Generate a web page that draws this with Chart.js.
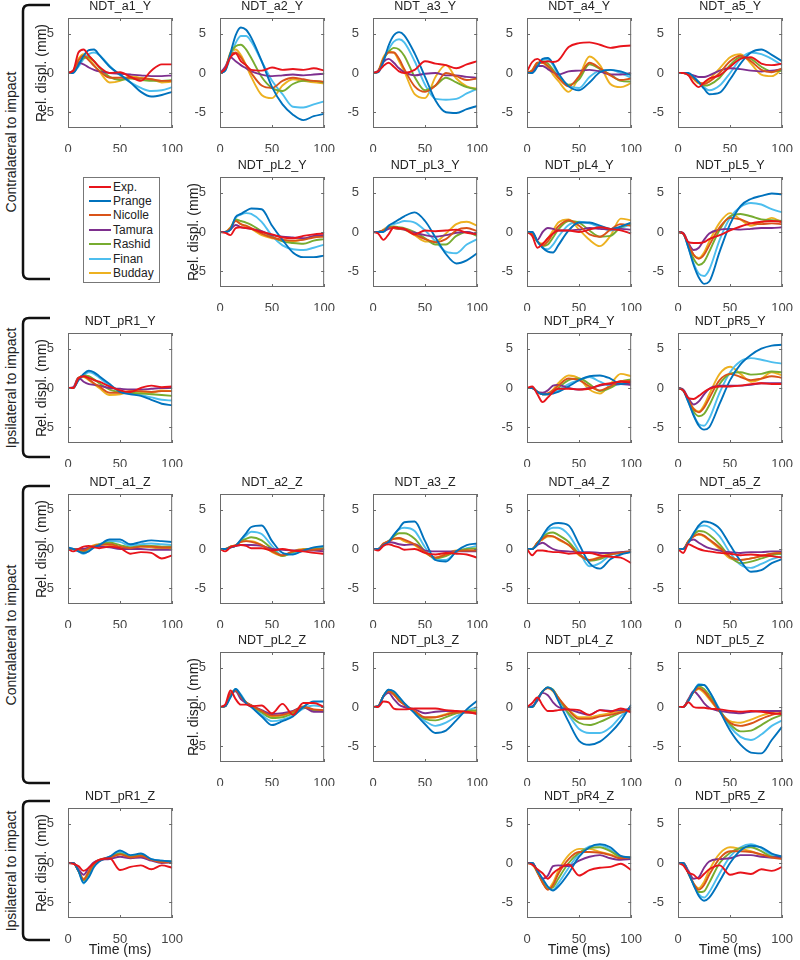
<!DOCTYPE html>
<html>
<head>
<meta charset="utf-8">
<script src="https://cdn.jsdelivr.net/npm/chart.js@4.4.1/dist/chart.umd.min.js"></script>
<style>
  html, body { margin: 0; padding: 0; background: #fff; }
  #fig { position: relative; width: 800px; height: 960px; overflow: hidden; font-family: "Liberation Sans", Arial, sans-serif; }
  #fig canvas { position: absolute; }
  .side { position: absolute; font-size: 14px; color: #222; white-space: nowrap; transform: translate(-50%, -50%) rotate(-90deg); }
  #legend { position: absolute; left: 83px; top: 177px; width: 77px; height: 106px; border: 1px solid #777; background: #fff; box-sizing: border-box; padding-top: 1.5px; }
  .item { height: 14.4px; display: flex; align-items: center; font-size: 12px; color: #222; }
  .item i { display: inline-block; width: 22px; height: 2px; margin: 0 2px 0 5px; }
</style>
</head>
<body>
<div id="fig">
  <svg id="brackets" width="800" height="960" style="position:absolute;left:0;top:0"></svg>
  <div id="legend"></div>
</div>
<script>
// time samples (ms) shared by every curve
const TIME = [0, 5, 10, 15, 20, 25, 30, 40, 50, 60, 70, 80, 90, 100];
const X_TICKS = [0, 50, 100];
const Y_TICKS = [-5, 0, 5];
const SERIES = ["Exp.", "Prange", "Nicolle", "Tamura", "Rashid", "Finan", "Budday"];
const COLORS = ["#e8141b", "#0072bd", "#d95319", "#7e2f8e", "#77ac30", "#4dbeee", "#edb120"];

// one row per series, same order as SERIES (displacement in mm)
const NDT_a1_Y = [
  [0, 0.3, 2.6, 3.0, 2.2, 1.5, 0.8, 0.0, 0.1, -0.5, -1.0, 0.3, 1.1, 1.1],
  [0, 0.0, 1.0, 2.2, 2.9, 3.0, 2.3, 0.8, -0.2, -1.2, -2.4, -3.0, -2.8, -2.4],
  [0, 0.2, 1.6, 2.2, 1.6, 0.9, 0.3, -0.6, -0.6, -0.6, -0.7, -0.8, -1.0, -1.0],
  [0, 0.3, 1.3, 1.1, 0.7, 0.4, 0.2, 0.0, -0.1, -0.2, -0.3, -0.4, -0.4, -0.3],
  [0, 0.2, 1.2, 1.9, 2.0, 1.5, 0.7, -0.5, -0.9, -0.7, -0.9, -1.0, -1.0, -0.9],
  [0, 0.1, 0.8, 1.8, 2.4, 2.6, 2.3, 0.9, -0.3, -1.2, -1.9, -2.3, -2.2, -1.8],
  [0, 0.3, 1.8, 2.4, 1.9, 1.0, 0.2, -1.2, -1.0, -0.4, -0.6, -0.8, -1.2, -1.1]
];
const NDT_a2_Y = [
  [0, 0.5, 2.0, 2.5, 1.5, 1.0, 0.4, 0.3, 0.7, 0.4, 0.5, 0.4, 0.6, 0.3],
  [0, 0.3, 2.5, 4.8, 5.8, 5.5, 4.5, 1.5, -1.8, -4.0, -5.3, -6.0, -5.5, -5.2],
  [0, 0.5, 2.3, 2.6, 2.0, 1.0, 0.0, -1.6, -1.9, -1.0, -0.6, -0.8, -1.0, -1.1],
  [0, 0.8, 2.0, 1.5, 1.0, 0.6, 0.2, -0.2, -0.4, -0.3, -0.2, -0.3, -0.2, -0.1],
  [0, 0.4, 2.5, 3.4, 3.6, 3.0, 1.9, -0.5, -1.9, -2.3, -1.4, -1.0, -1.0, -1.2],
  [0, 0.3, 2.0, 3.8, 4.7, 4.7, 4.0, 1.5, -1.0, -2.7, -4.3, -4.4, -4.0, -3.6],
  [0, 0.5, 2.6, 3.0, 2.3, 1.0, -0.5, -2.8, -3.2, -1.6, -0.8, -1.0, -1.2, -1.3]
];
const NDT_a3_Y = [
  [0, 0.2, 0.9, 1.3, 0.8, 0.2, 0.0, 0.4, 1.5, 1.2, 1.0, 0.6, 1.1, 1.5],
  [0, 0.1, 1.5, 3.5, 4.8, 5.2, 4.8, 2.5, -0.5, -3.5, -5.0, -5.1, -4.6, -4.2],
  [0, 0.2, 1.8, 2.6, 2.6, 1.8, 0.5, -1.7, -2.4, -1.6, 0.0, -0.4, -0.9, -0.7],
  [0, 0.3, 1.4, 1.8, 1.3, 0.6, 0.1, -0.3, -0.1, 0.0, -0.3, -0.3, -0.5, -0.6],
  [0, 0.2, 1.8, 2.7, 3.2, 3.0, 2.2, -0.5, -2.2, -1.6, -0.6, -1.2, -1.8, -2.1],
  [0, 0.1, 1.5, 3.0, 4.0, 4.3, 3.9, 1.5, -1.5, -3.3, -3.4, -3.3, -2.6, -2.0],
  [0, 0.3, 2.0, 2.7, 2.6, 1.5, 0.2, -2.7, -3.2, -0.5, 1.0, -0.7, -1.7, -2.0]
];
const NDT_a4_Y = [
  [0.2, 1.4, 1.8, 1.4, 1.5, 1.4, 1.6, 3.3, 3.8, 3.9, 3.6, 3.2, 3.4, 3.5],
  [0, 0.0, 0.8, 1.8, 1.9, 1.2, 0.0, -1.7, -2.2, -1.2, 0.1, 0.4, 0.2, -0.3],
  [0, 0.3, 1.3, 1.3, 0.9, 0.2, -0.6, -1.7, -0.4, 1.3, 0.6, -0.3, -0.9, -0.7],
  [0, 0.2, 0.9, 0.9, 0.5, 0.1, -0.2, 0.2, 0.3, 0.4, 0.2, -0.2, -0.2, 0.0],
  [0, 0.3, 1.2, 1.5, 1.2, 0.4, -0.5, -1.5, -0.8, 1.1, 0.5, -0.2, -1.0, -1.1],
  [0, 0.1, 0.9, 1.7, 1.7, 1.0, -0.3, -1.6, -1.9, -0.5, 0.3, 0.4, 0.0, -0.6],
  [0, 0.4, 1.3, 1.3, 0.7, -0.2, -1.0, -2.4, -0.5, 2.1, 1.0, -1.4, -1.8, -1.3]
];
const NDT_a5_Y = [
  [0, 0, -0.3, -1.3, -1.8, -1.2, -0.7, -0.3, 0.8, 1.8, 2.0, 1.2, 1.0, 1.2],
  [0, 0, 0, -0.5, -1.2, -2.0, -2.7, -2.5, -0.8, 1.2, 2.6, 3.0, 2.3, 1.5],
  [0, 0, -0.2, -0.7, -1.2, -1.4, -1.1, 0.0, 1.5, 2.2, 1.5, 0.4, 0.1, 0.6],
  [0, 0, -0.1, -0.3, -0.5, -0.5, -0.3, 0.3, 0.6, 0.5, 0.3, 0.2, 0.3, 0.5],
  [0, 0, -0.2, -0.6, -1.2, -1.6, -1.5, -0.6, 1.0, 2.0, 1.8, 0.8, 0.2, 0.3],
  [0, 0, -0.1, -0.5, -1.1, -1.8, -2.2, -1.6, 0.0, 1.8, 2.6, 2.4, 1.8, 1.0],
  [0, 0, -0.2, -0.8, -1.3, -1.3, -0.8, 0.6, 2.0, 2.4, 1.2, -0.2, -0.4, 0.5]
];
const NDT_pL2_Y = [
  [0, -0.1, -0.4, 0.5, 0.6, 0.5, 0.4, 0.0, -0.3, -0.7, -0.8, -0.5, -0.3, -0.2],
  [0, 0, 0.3, 1.9, 2.3, 2.7, 3.0, 2.9, 0.8, -1.0, -2.6, -3.2, -3.2, -3.0],
  [0, 0, 0.5, 1.4, 1.0, 0.8, 0.5, -0.2, -0.7, -1.0, -1.1, -1.0, -0.7, -0.6],
  [0, 0, 0.3, 0.9, 0.6, 0.5, 0.4, 0.1, -0.4, -0.6, -0.7, -0.8, -0.5, -0.4],
  [0, 0, 0.5, 1.6, 1.4, 1.2, 0.9, 0.1, -0.6, -1.2, -1.4, -1.5, -1.1, -0.9],
  [0, 0, 0.3, 1.8, 2.2, 2.4, 2.3, 1.3, -0.5, -1.7, -2.2, -2.3, -2.0, -1.6],
  [0, 0, 0.6, 1.5, 1.0, 0.7, 0.4, -0.4, -0.8, -1.0, -1.2, -0.9, -0.6, -0.5]
];
const NDT_pL3_Y = [
  [0, -0.2, -1.0, -0.3, 0.6, 0.5, 0.4, -0.3, 0.2, 0.1, 0.2, 0.3, -0.1, -0.3],
  [0, 0, 0, 0.8, 1.2, 1.6, 2.0, 2.5, 1.4, -0.7, -2.8, -4.0, -3.6, -2.7],
  [0, 0, 0.2, 0.6, 0.5, 0.4, 0.4, -0.3, -0.9, -1.3, -0.9, 0.2, 0.5, 0.1],
  [0, 0, 0.1, 0.4, 0.5, 0.4, 0.3, -0.1, -0.4, -0.6, -0.4, -0.1, 0.0, -0.3],
  [0, 0, 0.2, 0.6, 0.7, 0.6, 0.5, 0.0, -0.8, -1.6, -1.6, -0.5, 0.0, -0.5],
  [0, 0, 0.2, 0.8, 1.0, 1.2, 1.4, 1.2, 0.2, -1.2, -2.5, -2.7, -1.6, -0.9],
  [0, 0, 0.3, 0.7, 0.5, 0.4, 0.3, -0.4, -1.2, -1.2, -0.2, 1.0, 1.3, 0.8]
];
const NDT_pL4_Y = [
  [0, -0.5, -2.0, -1.5, -0.8, -0.2, 0.2, 0.2, 0.0, 0.3, 0.6, 0.4, 0.2, -0.2],
  [0, 0, -1.2, -2.0, -2.5, -2.6, -1.7, 0.2, 1.2, 1.2, 0.8, 0.4, 0.7, 1.2],
  [0, -0.3, -1.2, -1.7, -1.2, -0.2, 0.7, 1.5, 0.8, -0.3, -0.6, 0.3, 1.0, 0.8],
  [0, 0, -1.0, 0.0, 0.5, 0.4, 0.2, 0.2, 0.3, 0.5, 0.4, 0.3, 0.4, 0.3],
  [0, -0.2, -1.2, -1.8, -1.6, -0.7, 0.3, 1.4, 1.2, 0.2, -0.6, -0.5, 0.6, 1.1],
  [0, -0.1, -1.2, -2.0, -2.2, -1.6, -0.6, 0.9, 1.3, 1.1, 0.6, 0.2, 0.5, 1.0],
  [0, -0.3, -1.2, -1.5, -0.8, 0.2, 1.2, 1.6, 0.3, -1.0, -1.8, -0.5, 1.7, 1.5]
];
const NDT_pL5_Y = [
  [0, -0.2, -1.3, -1.4, -1.4, -1.3, -0.9, -0.4, 0.2, 0.7, 1.1, 1.3, 1.4, 1.3],
  [0, -0.2, -2.0, -4.2, -5.8, -6.6, -6.3, -2.5, 1.0, 3.3, 4.2, 4.6, 4.9, 4.8],
  [0, -0.2, -1.6, -2.9, -3.4, -2.9, -1.7, 0.6, 1.8, 1.6, 1.1, 1.0, 1.1, 1.0],
  [0, -0.1, -1.4, -2.3, -2.0, -1.0, -0.2, 0.3, 0.4, 0.3, 0.4, 0.5, 0.5, 0.6],
  [0, -0.2, -1.8, -3.4, -4.2, -3.8, -2.5, 0.3, 2.0, 2.3, 2.0, 1.6, 1.5, 1.4],
  [0, -0.2, -2.0, -4.0, -5.3, -5.6, -4.8, -1.0, 1.8, 3.2, 3.7, 3.5, 2.9, 2.5],
  [0, -0.2, -1.6, -2.9, -3.3, -2.6, -1.2, 1.2, 2.4, 1.6, 0.8, 1.2, 1.8, 1.2]
];
const NDT_pR1_Y = [
  [0, 0, 1.2, 1.5, 1.3, 1.0, 0.8, 0.2, -0.3, -0.5, 0.0, 0.3, 0.1, 0.2],
  [0, 0, 1.0, 1.8, 2.2, 2.0, 1.5, 0.5, -0.5, -0.8, -1.0, -1.5, -2.0, -2.2],
  [0, 0, 1.3, 1.5, 1.1, 0.6, 0.2, -0.6, -0.6, -0.4, -0.4, -0.5, -0.4, -0.4],
  [0, 0.1, 1.3, 0.8, 0.5, 0.4, 0.3, 0.0, -0.1, -0.2, -0.2, -0.1, 0.0, 0.0],
  [0, 0, 1.2, 1.6, 1.5, 1.1, 0.6, -0.2, -0.5, -0.6, -0.7, -0.8, -0.9, -1.0],
  [0, 0, 1.0, 1.6, 2.0, 1.8, 1.3, 0.3, -0.4, -0.7, -0.9, -1.2, -1.5, -1.6],
  [0, 0, 1.3, 1.4, 1.0, 0.5, 0.0, -0.9, -0.8, -0.4, -0.5, -0.6, -0.3, -0.4]
];
const NDT_pR4_Y = [
  [0, 0.2, -0.8, -1.8, -1.2, -0.5, -0.1, -0.1, -0.2, -0.1, 0.4, 0.6, 0.8, 0.7],
  [0, 0, -0.5, -0.8, -0.8, -0.7, -0.5, 0.2, 1.0, 1.5, 1.6, 1.2, 0.5, 0.7],
  [0, 0, -0.5, -0.8, -0.7, -0.3, 0.3, 1.2, 1.0, 0.2, -0.3, 0.2, 0.9, 0.9],
  [0, 0, -0.5, -0.6, -0.3, 0.3, 0.4, 0.0, -0.2, 0.0, 0.3, 0.5, 0.5, 0.4],
  [0, 0, -0.5, -0.8, -0.8, -0.5, 0.0, 1.0, 1.2, 0.5, -0.4, 0.0, 0.8, 1.1],
  [0, 0, -0.5, -0.8, -0.8, -0.6, -0.3, 0.5, 1.0, 1.4, 0.8, 0.3, 0.5, 0.9],
  [0, 0, -0.5, -0.8, -0.7, -0.2, 0.6, 1.6, 1.2, -0.2, -0.7, 0.5, 1.8, 1.5]
];
const NDT_pR5_Y = [
  [0, -0.3, -1.3, -1.4, -1.0, -0.5, -0.1, 0.2, 0.2, 0.3, 0.5, 0.6, 0.5, 0.5],
  [0, -0.3, -1.8, -3.5, -4.8, -5.3, -5.0, -2.0, 1.0, 3.0, 4.2, 5.0, 5.4, 5.5],
  [0, -0.3, -1.5, -2.7, -3.1, -2.5, -1.3, 1.0, 1.8, 1.4, 1.0, 1.2, 1.5, 1.3],
  [0, -0.2, -1.3, -2.1, -1.7, -0.8, -0.1, 0.3, 0.3, 0.3, 0.4, 0.6, 0.6, 0.6],
  [0, -0.3, -1.6, -3.0, -3.6, -3.3, -2.2, 0.5, 1.8, 2.0, 1.7, 1.8, 2.1, 2.0],
  [0, -0.3, -1.8, -3.4, -4.6, -4.8, -3.9, -0.6, 2.0, 3.4, 3.8, 3.6, 3.3, 3.1],
  [0, -0.3, -1.5, -2.6, -3.0, -2.2, -0.8, 1.8, 2.7, 1.8, 0.8, 1.2, 2.0, 1.6]
];
const NDT_a1_Z = [
  [0, -0.3, 0.0, 0.3, 0.4, 0.2, 0.1, 0.3, 0.1, -0.6, -0.4, -0.5, -1.2, -0.8],
  [0.2, 0.0, -0.3, -0.5, -0.3, 0.2, 0.5, 1.2, 1.2, 0.6, 0.9, 1.1, 1.0, 0.9],
  [0, 0, -0.1, -0.2, 0.1, 0.4, 0.5, 0.6, 0.3, 0.1, 0.3, 0.3, 0.2, 0.2],
  [0, 0, 0.0, 0.0, 0.2, 0.3, 0.3, 0.2, 0.0, 0.0, 0.0, -0.1, -0.1, -0.1],
  [0, 0, -0.2, -0.3, 0.0, 0.3, 0.6, 0.8, 0.5, 0.2, 0.4, 0.4, 0.3, 0.3],
  [0.1, 0, -0.3, -0.6, -0.2, 0.3, 0.6, 1.0, 0.9, 0.4, 0.6, 0.7, 0.6, 0.5],
  [0, 0, -0.1, -0.1, 0.2, 0.5, 0.6, 0.5, 0.1, 0.0, 0.3, 0.2, 0.0, 0.1]
];
const NDT_a2_Z = [
  [0, -0.3, 0.2, 0.4, 0.5, 0.4, 0.1, 0.1, -0.2, 0.0, -0.2, -0.3, -0.5, -0.6],
  [0, 0, 0.2, 0.4, 1.2, 2.0, 2.8, 3.0, 1.0, -0.5, -0.7, -0.2, 0.2, 0.4],
  [0, 0, 0.3, 0.5, 0.9, 1.0, 0.9, 0.5, -0.3, -0.8, -0.3, -0.1, -0.1, 0.0],
  [0, 0, 0.2, 0.4, 0.5, 0.5, 0.5, 0.4, 0.0, -0.1, -0.2, -0.2, -0.2, -0.3],
  [0, 0, 0.3, 0.4, 1.0, 1.3, 1.5, 1.1, 0.0, -0.9, -0.4, -0.1, 0.0, 0.1],
  [0, 0, 0.2, 0.4, 1.1, 1.7, 2.2, 1.9, 0.4, -0.8, -0.6, -0.2, 0.1, 0.2],
  [0, 0, 0.3, 0.5, 0.9, 1.0, 1.0, 0.5, -0.4, -0.9, -0.3, 0.0, 0.0, 0.0]
];
const NDT_a3_Z = [
  [0, -0.2, 0.4, 0.6, 0.4, 0.2, -0.1, 0.0, -0.5, -0.7, -0.5, -0.6, -0.7, -1.1],
  [0, 0, 0.5, 0.9, 1.8, 2.6, 3.4, 3.5, 1.0, -1.4, -1.6, -0.3, 0.5, 0.7],
  [0, 0, 0.7, 1.0, 1.3, 1.4, 1.2, 0.6, -0.4, -1.1, -0.7, -0.3, -0.2, -0.2],
  [0, 0, 0.6, 0.9, 0.8, 0.6, 0.5, 0.6, -0.2, -0.3, -0.3, -0.3, -0.3, -0.3],
  [0, 0, 0.6, 1.0, 1.6, 2.0, 2.0, 1.3, -0.3, -1.2, -0.9, -0.3, 0.0, 0.1],
  [0, 0, 0.6, 1.0, 1.8, 2.5, 2.7, 2.3, 0.2, -1.4, -1.4, -0.4, 0.1, 0.4],
  [0, 0, 0.7, 1.0, 1.3, 1.3, 1.0, 0.5, -0.5, -1.1, -0.6, -0.2, -0.2, -0.1]
];
const NDT_a4_Z = [
  [0, -0.8, -0.2, -0.2, -0.3, -0.4, -0.4, -0.6, -0.5, -0.5, -0.8, -1.0, -1.1, -1.8],
  [0, 0, 0.6, 1.7, 2.7, 3.2, 3.3, 3.0, 0.6, -1.8, -2.5, -1.3, -0.7, -0.4],
  [0, 0, 0.8, 1.3, 1.7, 1.6, 1.3, 0.5, -0.7, -1.4, -1.1, -0.7, -0.5, -0.3],
  [0, 0, 0.5, 0.8, 0.4, 0.0, -0.2, -0.3, -0.4, -0.4, -0.5, -0.5, -0.4, -0.3],
  [0, 0, 0.8, 1.5, 2.0, 2.1, 1.8, 0.9, -0.6, -1.5, -1.3, -0.7, -0.5, -0.4],
  [0, 0, 0.7, 1.6, 2.4, 2.7, 2.7, 1.8, -0.3, -2.2, -1.8, -0.8, -0.5, -0.3],
  [0, 0, 0.8, 1.2, 1.6, 1.6, 1.2, 0.5, -0.8, -1.4, -1.0, -0.6, -0.4, -0.3]
];
const NDT_a5_Z = [
  [0, -0.5, 0.6, 0.3, 0.0, -0.2, -0.3, -0.5, -0.6, -0.8, -0.7, -0.8, -0.9, -1.1],
  [0, 0, 0.8, 2.0, 3.0, 3.5, 3.4, 2.6, 0.5, -1.5, -2.9, -2.7, -1.8, -1.3],
  [0, 0, 1.0, 1.6, 1.9, 1.7, 1.2, 0.2, -1.0, -1.4, -1.2, -0.9, -0.6, -0.5],
  [0, 0, 0.9, 1.2, 0.8, 0.4, 0.1, -0.2, -0.4, -0.5, -0.4, -0.4, -0.3, -0.3],
  [0, 0, 1.0, 1.8, 2.3, 2.2, 1.8, 0.6, -1.0, -1.8, -1.6, -1.2, -0.8, -0.6],
  [0, 0, 0.9, 2.0, 2.8, 3.0, 2.8, 1.6, -0.5, -2.0, -2.4, -1.9, -1.3, -0.9],
  [0, 0, 1.0, 1.6, 1.8, 1.6, 1.1, 0.0, -1.2, -1.4, -1.2, -0.9, -0.6, -0.4]
];
const NDT_pL2_Z = [
  [0, 0.3, 2.1, 1.0, 0.3, 0.3, 0.1, 0.2, -0.8, 0.4, -1.0, 0.5, 0.5, 0.0],
  [0, 0.1, 1.2, 2.3, 1.5, 0.5, 0.0, -1.2, -2.3, -1.8, -1.2, 0.0, 0.7, 0.7],
  [0, 0.1, 1.6, 2.1, 1.3, 0.6, 0.2, -0.5, -1.1, -1.0, -0.6, 0.0, -0.3, -0.4],
  [0, 0.1, 1.7, 2.0, 1.0, 0.5, 0.2, -0.4, -0.9, -0.8, -0.5, 0.0, -0.6, -0.6],
  [0, 0.1, 1.5, 2.2, 1.4, 0.6, 0.2, -0.7, -1.4, -1.3, -0.8, -0.1, -0.4, -0.5],
  [0, 0.1, 1.3, 2.3, 1.6, 0.6, 0.1, -1.0, -1.8, -1.6, -1.1, -0.2, 0.2, 0.0],
  [0, 0.1, 1.6, 2.1, 1.3, 0.5, 0.2, -0.6, -1.2, -1.1, -0.6, 0.1, -0.4, -0.6]
];
const NDT_pL3_Z = [
  [0, 0.0, 0.7, 0.6, -0.2, -0.3, -0.3, -0.2, -0.2, -0.2, -0.4, -0.5, -0.6, -0.9],
  [0, 0.1, 1.4, 2.2, 2.0, 1.3, 0.5, -0.8, -2.2, -3.3, -3.0, -1.7, -0.3, 0.8],
  [0, 0.1, 1.4, 2.0, 1.6, 0.8, 0.3, -0.5, -1.3, -1.3, -1.0, -0.7, -0.7, -0.7],
  [0, 0.1, 1.3, 1.8, 1.0, 0.3, 0.0, -0.3, -0.8, -0.6, -0.5, -0.6, -0.7, -0.8],
  [0, 0.1, 1.4, 2.1, 1.8, 1.0, 0.4, -0.6, -1.5, -1.7, -1.3, -0.8, -0.5, -0.4],
  [0, 0.1, 1.4, 2.2, 1.9, 1.2, 0.5, -0.7, -1.8, -2.4, -2.0, -1.2, -0.5, 0.0],
  [0, 0.1, 1.4, 2.0, 1.6, 0.9, 0.3, -0.6, -1.4, -1.3, -0.9, -0.6, -0.6, -0.6]
];
const NDT_pL4_Z = [
  [0, 0.5, 1.2, 0.2, -0.5, -0.5, -0.4, -0.3, -0.4, -1.0, -0.4, -0.6, -0.2, -0.7],
  [0, 0, 1.0, 2.0, 2.5, 2.1, 0.8, -1.9, -4.3, -4.8, -4.4, -3.3, -1.8, 0.3],
  [0, 0, 1.0, 2.0, 2.4, 2.1, 1.2, -0.4, -1.5, -1.5, -1.2, -1.0, -0.7, -0.5],
  [0, 0.1, 0.8, 1.8, 1.5, 0.6, 0.0, -0.3, -0.7, -1.0, -0.4, -0.5, -0.4, -0.2],
  [0, 0, 1.0, 2.0, 2.5, 2.2, 1.2, -0.8, -2.0, -2.3, -1.9, -1.3, -0.7, -0.3],
  [0, 0, 1.0, 2.0, 2.5, 2.2, 1.1, -1.0, -2.8, -3.3, -3.3, -2.6, -1.2, 0.0],
  [0, 0, 1.0, 2.0, 2.4, 2.0, 1.1, -0.3, -1.3, -1.3, -1.0, -0.8, -0.5, -0.3]
];
const NDT_pL5_Z = [
  [0, 0.0, 0.6, 0.0, -0.1, -0.1, -0.2, -0.3, -0.5, -0.6, -0.5, -0.6, -0.8, -0.9],
  [0, 0, 0.8, 2.0, 2.8, 2.8, 2.0, -0.5, -3.0, -4.8, -5.8, -5.9, -4.2, -2.5],
  [0, 0, 0.9, 1.9, 2.4, 2.0, 1.2, -0.6, -2.0, -2.4, -2.1, -1.5, -1.0, -0.7],
  [0, 0, 1.0, 2.0, 1.4, 0.5, -0.1, -0.5, -0.7, -0.8, -0.6, -0.5, -0.5, -0.5],
  [0, 0, 0.9, 2.0, 2.6, 2.3, 1.5, -0.4, -2.2, -3.1, -3.0, -2.3, -1.5, -1.0],
  [0, 0, 0.8, 2.0, 2.9, 2.8, 2.0, -0.3, -2.5, -3.8, -4.2, -3.5, -2.4, -1.7],
  [0, 0, 0.9, 1.9, 2.3, 1.8, 1.0, -0.6, -1.8, -2.0, -1.6, -1.1, -0.7, -0.5]
];
const NDT_pR1_Z = [
  [0, -0.1, -0.4, -1.0, -0.6, 0.0, 0.4, 0.6, -0.9, -0.5, -0.3, -0.8, -0.3, -0.6],
  [0, 0, -1.0, -2.5, -1.8, -0.5, 0.2, 0.8, 1.6, 1.0, 1.2, 0.5, 0.3, 0.2],
  [0, 0, -1.0, -2.1, -1.1, -0.1, 0.4, 0.7, 1.1, 0.7, 0.9, 0.4, 0.1, 0.1],
  [0, 0, -0.8, -1.5, -0.6, 0.1, 0.4, 0.5, 0.8, 0.6, 0.7, 0.3, 0.0, 0.1],
  [0, 0, -1.0, -2.2, -1.3, -0.2, 0.3, 0.7, 1.2, 0.8, 1.0, 0.4, 0.2, 0.2],
  [0, 0, -1.0, -2.6, -1.5, -0.3, 0.3, 0.8, 1.4, 0.9, 1.1, 0.5, 0.3, 0.2],
  [0, 0, -1.0, -2.0, -1.0, 0.0, 0.4, 0.6, 1.1, 0.7, 0.8, 0.4, 0.1, 0.2]
];
const NDT_pR4_Z = [
  [0, -0.2, -0.8, -1.3, -2.0, -1.3, -0.8, -0.2, -1.6, -0.9, -0.6, -0.5, -0.1, -0.9],
  [0, 0, -1.0, -2.0, -3.0, -3.5, -3.0, -1.3, 0.8, 2.0, 2.4, 2.0, 0.9, 0.7],
  [0, 0, -1.2, -2.5, -3.4, -2.8, -1.4, 0.5, 1.4, 1.4, 1.3, 1.0, 0.6, 0.7],
  [0, 0, -1.0, -2.0, -1.6, -0.4, -0.3, -0.4, 0.3, 0.8, 1.0, 0.6, 0.4, 0.5],
  [0, 0, -1.2, -2.4, -3.3, -3.1, -2.0, 0.0, 1.3, 1.9, 2.0, 1.5, 0.8, 0.7],
  [0, 0, -1.1, -2.2, -3.2, -3.4, -2.6, -0.6, 1.2, 2.1, 2.3, 1.7, 0.7, 0.7],
  [0, -0.2, -1.2, -2.5, -3.3, -2.5, -1.0, 1.0, 1.8, 1.8, 1.4, 1.1, 0.7, 0.7]
];
const NDT_pR5_Z = [
  [0, -0.3, -1.2, -1.5, -2.0, -1.4, -0.8, -0.3, -1.5, -1.2, -1.4, -0.8, -1.0, -0.5],
  [0, 0, -1.3, -2.8, -4.2, -4.8, -4.4, -2.3, 0.0, 1.6, 2.2, 2.0, 1.2, 0.8],
  [0, 0, -1.3, -2.6, -3.4, -2.8, -1.5, 0.6, 1.5, 1.5, 1.4, 1.1, 0.7, 0.5],
  [0, 0, -1.0, -2.0, -1.8, -0.6, 0.2, 0.5, 0.6, 1.0, 1.0, 0.8, 0.7, 0.8],
  [0, 0, -1.3, -2.7, -3.7, -3.6, -2.5, 0.0, 1.3, 1.9, 2.0, 1.5, 0.8, 0.7],
  [0, 0, -1.3, -2.8, -4.0, -4.4, -3.7, -1.3, 0.8, 2.0, 2.4, 1.9, 1.0, 0.8],
  [0, 0, -1.3, -2.6, -3.2, -2.4, -0.9, 1.2, 2.0, 1.8, 1.5, 1.0, 0.8, 0.6]
];

const DATA = {
  NDT_a1_Y, NDT_a2_Y, NDT_a3_Y, NDT_a4_Y, NDT_a5_Y,
  NDT_pL2_Y, NDT_pL3_Y, NDT_pL4_Y, NDT_pL5_Y,
  NDT_pR1_Y, NDT_pR4_Y, NDT_pR5_Y,
  NDT_a1_Z, NDT_a2_Z, NDT_a3_Z, NDT_a4_Z, NDT_a5_Z,
  NDT_pL2_Z, NDT_pL3_Z, NDT_pL4_Z, NDT_pL5_Z,
  NDT_pR1_Z, NDT_pR4_Z, NDT_pR5_Z
};

// panel arrangement (null = empty slot)
const GRID = [
  ["NDT_a1_Y", "NDT_a2_Y", "NDT_a3_Y", "NDT_a4_Y", "NDT_a5_Y"],
  [null, "NDT_pL2_Y", "NDT_pL3_Y", "NDT_pL4_Y", "NDT_pL5_Y"],
  ["NDT_pR1_Y", null, null, "NDT_pR4_Y", "NDT_pR5_Y"],
  ["NDT_a1_Z", "NDT_a2_Z", "NDT_a3_Z", "NDT_a4_Z", "NDT_a5_Z"],
  [null, "NDT_pL2_Z", "NDT_pL3_Z", "NDT_pL4_Z", "NDT_pL5_Z"],
  ["NDT_pR1_Z", null, null, "NDT_pR4_Z", "NDT_pR5_Z"]
];

const GROUP_LABELS = ["Contralateral to impact", "Ipsilateral to impact", "Contralateral to impact", "Ipsilateral to impact"];

// ---- layout ----
const COL_X = [68, 220, 373, 527, 678];      // plot box left edges
const ROW_Y = [18, 177, 333, 494, 652, 808]; // plot box top edges
const BOX_W = 109, BOX_H = 110;
const ML = 46, MT = 19, MR = 12;
const BRACKET_SPANS = [[5, 279], [318, 457], [486, 783], [801, 940]];
const FONT = '"Liberation Sans", Arial, Helvetica, sans-serif';

Chart.defaults.font.family = FONT;

const fig = document.getElementById("fig");

// axes box with inward tick marks, like the original
const boxPlugin = {
  id: "box",
  afterDatasetsDraw(chart) {
    const { ctx, chartArea: a, scales: { x, y } } = chart;
    ctx.save();
    ctx.strokeStyle = "#6a6a6a";
    ctx.lineWidth = 1;
    ctx.strokeRect(a.left + 0.5, a.top + 0.5, a.width - 1, a.height - 1);
    ctx.beginPath();
    X_TICKS.forEach((v) => {
      const px = Math.round(x.getPixelForValue(v)) + 0.5;
      ctx.moveTo(px, a.top); ctx.lineTo(px, a.top + 3);
      ctx.moveTo(px, a.bottom); ctx.lineTo(px, a.bottom - 3);
    });
    Y_TICKS.forEach((v) => {
      const py = Math.round(y.getPixelForValue(v)) + 0.5;
      ctx.moveTo(a.left, py); ctx.lineTo(a.left + 3, py);
      ctx.moveTo(a.right, py); ctx.lineTo(a.right - 3, py);
    });
    ctx.stroke();
    ctx.restore();
  }
};

function makePanel(name, row, col) {
  const values = DATA[name];
  const showY = GRID[row].findIndex((n) => n) === col;
  const showX = row === GRID.length - 1;
  const mb = showX ? 44 : 24;

  const canvas = document.createElement("canvas");
  canvas.width = ML + BOX_W + MR;
  canvas.height = MT + BOX_H + mb;
  canvas.style.left = COL_X[col] - ML + "px";
  canvas.style.top = ROW_Y[row] - MT + "px";
  fig.appendChild(canvas);

  new Chart(canvas, {
    type: "line",
    data: {
      datasets: SERIES.map((s, i) => ({
        label: s,
        data: TIME.map((t, k) => ({ x: t, y: values[i][k] })),
        borderColor: COLORS[i],
        borderWidth: 1.9,
        pointRadius: 0,
        fill: false,
        cubicInterpolationMode: "monotone"
      }))
    },
    options: {
      responsive: false,
      animation: false,
      devicePixelRatio: 1,
      layout: { padding: { left: 0, right: MR, top: 0, bottom: 0 } },
      plugins: {
        legend: { display: false },
        tooltip: { enabled: false },
        title: {
          display: true,
          fullSize: false, // centre the title over the plot box, not the canvas
          text: name,
          color: "#222",
          font: { size: 12.5, weight: "normal", lineHeight: 1.2 },
          padding: { top: 0, bottom: 4 }
        }
      },
      scales: {
        x: {
          type: "linear",
          min: 0,
          max: 100,
          afterBuildTicks: (s) => { s.ticks = X_TICKS.map((v) => ({ value: v })); },
          afterFit: (s) => { s.height = mb; },
          grid: { display: false },
          border: { display: false },
          ticks: { padding: 6, color: "#444", font: { size: 13 }, maxRotation: 0, callback: (v) => String(v) },
          title: {
            display: showX,
            text: "Time (ms)",
            color: "#222",
            font: { size: 14, lineHeight: 1.2 },
            padding: { top: 0, bottom: 3.6 }
          }
        },
        y: {
          min: -7,
          max: 7,
          afterBuildTicks: (s) => { s.ticks = Y_TICKS.map((v) => ({ value: v })); },
          afterFit: (s) => { s.width = ML; },
          grid: { display: false },
          border: { display: false },
          ticks: { padding: 6, color: "#444", font: { size: 13 }, callback: (v) => String(v) },
          title: {
            display: showY,
            text: "Rel. displ. (mm)",
            color: "#222",
            font: { size: 14, lineHeight: 1.2 },
            padding: { top: 11.6, bottom: 0 }
          }
        }
      }
    },
    plugins: [boxPlugin]
  });
}

GRID.forEach((cells, r) => cells.forEach((name, c) => { if (name) makePanel(name, r, c); }));

// legend
const legend = document.getElementById("legend");
SERIES.forEach((s, i) => {
  const row = document.createElement("div");
  row.className = "item";
  row.innerHTML = '<i style="background:' + COLORS[i] + '"></i>' + s;
  legend.appendChild(row);
});

// side brackets and group labels
const svg = document.getElementById("brackets");
const BX = 23, BEND = 50, R = 6;
GROUP_LABELS.forEach((label, g) => {
  const [y1, y2] = BRACKET_SPANS[g];
  const path = document.createElementNS("http://www.w3.org/2000/svg", "path");
  path.setAttribute("d",
    "M" + BEND + " " + y1 + " L" + (BX + R) + " " + y1 + " Q" + BX + " " + y1 + " " + BX + " " + (y1 + R) +
    " L" + BX + " " + (y2 - R) + " Q" + BX + " " + y2 + " " + (BX + R) + " " + y2 + " L" + BEND + " " + y2);
  path.setAttribute("fill", "none");
  path.setAttribute("stroke", "#111");
  path.setAttribute("stroke-width", "2.5");
  svg.appendChild(path);

  const t = document.createElement("div");
  t.className = "side";
  t.textContent = label;
  t.style.left = "11px";
  t.style.top = (y1 + y2) / 2 + "px";
  fig.appendChild(t);
});
</script>
</body>
</html>
